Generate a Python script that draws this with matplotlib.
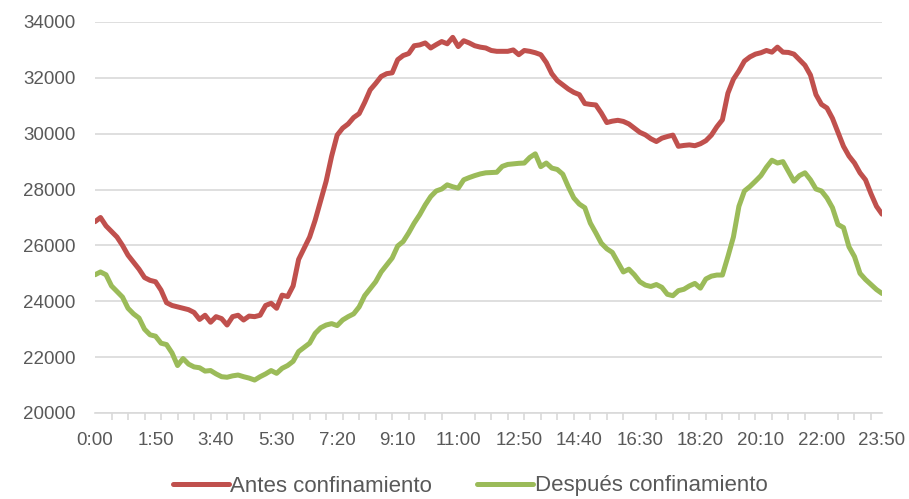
import matplotlib
matplotlib.use("Agg")
import matplotlib.pyplot as plt
from matplotlib.ticker import FixedLocator

plt.rcParams['font.family'] = ['Liberation Sans Narrow', 'Liberation Sans', 'DejaVu Sans']

# time labels every 10 minutes
times = [f"{m // 60}:{m % 60:02d}" for m in range(0, 24 * 60, 10)]

antes = [
    26850, 27000, 26700, 26500, 26300, 26000, 25650, 25400, 25150, 24850,
    24750, 24700, 24400, 23950, 23850, 23800, 23750, 23700, 23600, 23350,
    23500, 23250, 23450, 23380, 23150, 23450, 23500, 23330, 23470, 23450,
    23500, 23850, 23930, 23750, 24220, 24170, 24550, 25500, 25900, 26300,
    26900, 27600, 28300, 29200, 29950, 30200, 30350, 30580, 30720, 31120,
    31570, 31800, 32050, 32150, 32180, 32650, 32800, 32870, 33150, 33180,
    33250, 33070, 33190, 33300, 33220, 33450, 33120, 33330, 33250, 33150,
    33100, 33070, 32980, 32950, 32950, 32950, 33000, 32830, 32980, 32950,
    32900, 32830, 32550, 32150, 31900, 31750, 31600, 31480, 31400, 31080,
    31050, 31030, 30740, 30400, 30450, 30480, 30440, 30350, 30200, 30050,
    29960, 29820, 29720, 29840, 29900, 29950, 29550, 29580, 29600, 29570,
    29640, 29750, 29950, 30250, 30500, 31450, 31950, 32250, 32600, 32750,
    32850, 32900, 32980, 32920, 33100, 32920, 32910, 32850, 32650, 32450,
    32100, 31400, 31050, 30920, 30550, 30050, 29550, 29200, 28950, 28600,
    28350, 27850, 27400, 27120,
]

despues = [
    24950, 25050, 24950, 24550, 24350, 24150, 23750, 23550, 23400, 23000,
    22800, 22750, 22500, 22450, 22150, 21700, 21950, 21750, 21650, 21620,
    21500, 21520, 21400, 21300, 21280, 21330, 21360, 21300, 21250, 21180,
    21300, 21400, 21520, 21420, 21600, 21700, 21850, 22200, 22350, 22500,
    22850, 23050, 23150, 23200, 23130, 23330, 23450, 23550, 23800, 24200,
    24450, 24700, 25050, 25300, 25550, 25980, 26140, 26450, 26800, 27100,
    27450, 27750, 27950, 28020, 28170, 28100, 28050, 28350, 28430, 28500,
    28560, 28600, 28610, 28620, 28830, 28900, 28920, 28940, 28950, 29150,
    29280, 28820, 28950, 28770, 28720, 28550, 28100, 27700, 27480, 27350,
    26800, 26450, 26080, 25880, 25750, 25400, 25050, 25150, 24950, 24700,
    24580, 24530, 24600, 24500, 24250, 24200, 24380, 24430, 24550, 24640,
    24470, 24800, 24900, 24940, 24940, 25600, 26300, 27400, 27950, 28110,
    28300, 28500, 28800, 29050, 28950, 29000, 28650, 28300, 28500, 28600,
    28350, 28020, 27950, 27700, 27350, 26750, 26640, 25950, 25600, 25000,
    24780, 24600, 24420, 24280,
]

series_names = ["Antes confinamiento", "Después confinamiento"]
yticks = [20000, 22000, 24000, 26000, 28000, 30000, 32000, 34000]

W, H = 909, 499
fig = plt.figure(figsize=(W / 100, H / 100), dpi=100)
ax = fig.add_axes([95 / W, 1 - 413 / H, (882 - 95) / W, (413 - 22) / H])

x = list(range(len(times)))
ax.plot(x, antes, color="#C0504D", lw=3.6, solid_capstyle="round", solid_joinstyle="round", label=series_names[0])
ax.plot(x, despues, color="#9BBB59", lw=3.6, solid_capstyle="round", solid_joinstyle="round", label=series_names[1])

ax.set_xlim(0, len(times) - 1)
ax.set_ylim(20000, 34000)
ax.set_yticks(yticks)
ax.set_yticklabels([str(v) for v in yticks])
ax.yaxis.grid(True, color="#D9D9D9", lw=1.2)
ax.set_axisbelow(True)

label_idx = list(range(0, len(times), 11))
ax.set_xticks(label_idx)
ax.set_xticklabels([times[i] for i in label_idx])
ax.xaxis.set_minor_locator(FixedLocator(list(range(0, len(times), 3)) + [len(times) - 1]))

for s in ["top", "right", "left"]:
    ax.spines[s].set_visible(False)
ax.spines["bottom"].set_color("#D9D9D9")
ax.spines["bottom"].set_linewidth(1.2)

ax.tick_params(axis="y", length=0, pad=14, labelsize=13.5, labelcolor="#595959")
ax.tick_params(axis="x", which="major", length=0, pad=14, labelsize=13.5, labelcolor="#595959")
ax.tick_params(axis="x", which="minor", length=5, width=1.2, color="#D9D9D9", direction="out")

fig.legend(loc="center", bbox_to_anchor=(470 / W, 1 - 486 / H), ncol=2, frameon=False,
           fontsize=16, labelcolor="#595959", handlelength=2.55, handletextpad=0.05,
           columnspacing=2.0, borderpad=0.1)

fig.savefig("out.png", dpi=100)
